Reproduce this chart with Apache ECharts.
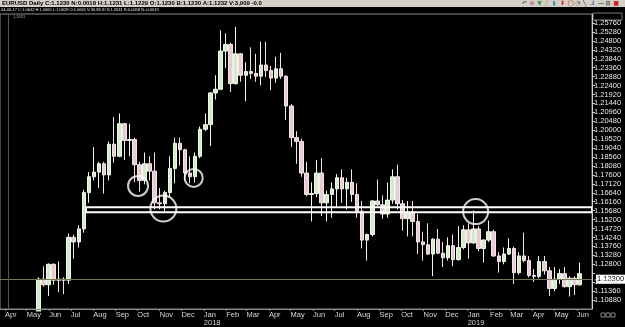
<!DOCTYPE html>
<html><head><meta charset="utf-8">
<script src="https://cdn.jsdelivr.net/npm/echarts@6/dist/echarts.min.js"></script>
<style>html,body{margin:0;padding:0;background:#000;overflow:hidden}#c{width:625px;height:327px}</style>
</head><body><div id="c"></div>
<script>
// ---- data (weekly OHLC; weeks start Mon 2017-04-03, plotted mid-week) ----
const firstWeekMid = '2017-04-05';
const opens = [
1.0665,1.0642,1.0615,1.0860,1.0895,1.0995,1.0930,1.1200,1.1170,1.1280,
1.1195,1.1200,1.1195,1.1425,1.1400,1.1470,1.1665,1.1750,1.1775,1.1820,
1.1760,1.1925,1.1860,1.2035,1.1945,1.1950,1.1815,1.1730,1.1820,1.1780,
1.1610,1.1605,1.1665,1.1795,1.1930,1.1895,1.1770,1.1750,1.1860,
1.2005,1.2030,1.2200,1.2220,1.2425,1.2460,1.2250,1.2410,1.2295,1.2315,
1.2305,1.2290,1.2350,1.2320,1.2280,1.2330,1.2290,1.2130,1.1960,1.1940,
1.1770,1.1655,1.1660,1.1770,1.1610,1.1655,1.1685,1.1745,1.1685,1.1720,
1.1655,1.1565,1.1410,1.1440,1.1620,1.1600,1.1550,1.1625,1.1750,1.1605,
1.1525,1.1560,1.1510,1.1400,1.1385,1.1335,1.1415,1.1340,1.1315,1.1380,
1.1305,1.1370,
1.1465,1.1395,1.1470,1.1365,1.1410,1.1455,1.1325,1.1295,1.1335,1.1365,
1.1235,1.1325,1.1300,1.1220,1.1215,1.1295,1.1245,1.1150,1.1200,1.1230,
1.1160,1.1205,1.1170];
const closes = [
1.0642,1.0615,1.0725,1.0895,1.0995,1.0930,1.1200,1.1170,1.1280,1.1195,
1.1200,1.1195,1.1425,1.1400,1.1470,1.1665,1.1750,1.1775,1.1820,1.1760,
1.1925,1.1860,1.2035,1.1945,1.1950,1.1815,1.1730,1.1820,1.1780,1.1610,
1.1605,1.1665,1.1795,1.1930,1.1895,1.1770,1.1750,1.1860,1.2005,
1.2030,1.2200,1.2220,1.2425,1.2460,1.2250,1.2410,1.2295,1.2315,1.2305,
1.2290,1.2350,1.2320,1.2280,1.2330,1.2290,1.2130,1.1960,1.1940,1.1770,
1.1655,1.1660,1.1770,1.1610,1.1655,1.1685,1.1745,1.1685,1.1720,1.1655,
1.1565,1.1410,1.1440,1.1620,1.1600,1.1550,1.1625,1.1750,1.1605,1.1525,
1.1560,1.1510,1.1400,1.1385,1.1335,1.1415,1.1340,1.1315,1.1380,1.1305,
1.1370,1.1465,
1.1395,1.1470,1.1365,1.1410,1.1455,1.1325,1.1295,1.1335,1.1365,1.1235,
1.1325,1.1300,1.1220,1.1215,1.1295,1.1245,1.1150,1.1200,1.1230,1.1160,
1.1205,1.1170,1.1230];
const lows = [
1.0605,1.0570,1.0605,1.0820,1.0870,1.0840,1.0920,1.1160,1.1110,1.1170,
1.1130,1.1120,1.1175,1.1310,1.1370,1.1450,1.1610,1.1730,1.1690,1.1660,
1.1730,1.1825,1.1855,1.1840,1.1860,1.1720,1.1670,1.1710,1.1730,1.1575,
1.1575,1.1555,1.1640,1.1715,1.1810,1.1730,1.1715,1.1720,1.1850,
1.1995,1.1915,1.2165,1.2215,1.2335,1.2205,1.2245,1.2260,1.2155,1.2275,
1.2260,1.2240,1.2285,1.2215,1.2255,1.2275,1.2055,1.1910,1.1820,1.1750,
1.1645,1.1510,1.1640,1.1540,1.1510,1.1530,1.1590,1.1610,1.1575,1.1615,
1.1530,1.1365,1.1300,1.1430,1.1590,1.1525,1.1530,1.1605,1.1575,1.1460,
1.1430,1.1430,1.1335,1.1300,1.1330,1.1216,1.1335,1.1265,1.1300,1.1270,
1.1300,1.1360,
1.1310,1.1390,1.1350,1.1290,1.1400,1.1320,1.1235,1.1280,1.1330,1.1175,
1.1225,1.1290,1.1210,1.1185,1.1205,1.1225,1.1110,1.1135,1.1175,1.1155,
1.1107,1.1115,1.1165];
const highs = [
1.0700,1.0680,1.0780,1.0950,1.1000,1.1020,1.1210,1.1270,1.1285,1.1285,
1.1295,1.1210,1.1445,1.1440,1.1490,1.1680,1.1775,1.1910,1.1830,1.1830,
1.1940,1.2070,1.2090,1.2040,1.2035,1.1960,1.1830,1.1880,1.1860,1.1880,
1.1690,1.1675,1.1860,1.1960,1.1960,1.1900,1.1860,1.1880,1.2020,
1.2090,1.2205,1.2295,1.2537,1.2520,1.2470,1.2555,1.2415,1.2365,1.2445,
1.2410,1.2475,1.2475,1.2345,1.2395,1.2415,1.2295,1.2140,1.1995,1.1955,
1.1830,1.1720,1.1840,1.1850,1.1675,1.1720,1.1765,1.1790,1.1745,1.1790,
1.1715,1.1620,1.1445,1.1625,1.1735,1.1650,1.1720,1.1790,1.1815,1.1625,
1.1620,1.1620,1.1550,1.1455,1.1500,1.1420,1.1470,1.1400,1.1425,1.1440,
1.1485,1.1490,
1.1500,1.1570,1.1485,1.1415,1.1515,1.1465,1.1345,1.1370,1.1420,1.1375,
1.1345,1.1450,1.1325,1.1255,1.1325,1.1325,1.1265,1.1265,1.1255,1.1265,
1.1215,1.1215,1.1290];

const lastPrice = 1.1230;
const crosshairDate = '2017-04-06';
const bandStartDate = '2017-07-22';
const bandLow = 1.1560, bandHigh = 1.1587;
const circleDates = ['2017-10-02','2017-11-06','2017-12-18','2019-01-12'];
const circlePrices = [1.1701, 1.1579, 1.1744, 1.1563];
const monthNames = ['Jan','Feb','Mar','Apr','May','Jun','Jul','Aug','Sep','Oct','Nov','Dec'];
const headerLine1 = 'EURUSD Daily C:1.1230 N:0.0018 H:1.1231 L:1.1229 O:1.1230 B:1.1230 A:1.1232 V:3,909 -0.0';
const headerLine2 = '04-06-17 C:1.0642 H:1.0665 L:1.0628 O:1.0661 V:36.8K III S:1.2631 R:0.0058 N:-0.0019';
const crosshairPriceText = '1.2631';

// ---- build ----
const DAY = 864e5;
const t0 = Date.parse(firstWeekMid + 'T00:00:00Z');
const candleData = opens.map((o, i) => [t0 + i * 7 * DAY, o, closes[i], lows[i], highs[i]]);
const circleSizes = [20, 26, 18, 25];
const circleData = circleDates.map((d, i) => ({
  value: [Date.parse(d + 'T00:00:00Z'), circlePrices[i]], symbolSize: circleSizes[i]
}));
const FF = '"Liberation Sans", Arial, sans-serif';

const icons = [['↶','#666'],['⊗','#c06a8a'],['▼','#3c9a3c'],['╱','#c08a3a'],['▮','#3aa0a0'],['⬍','#d03030'],
  ['◯','#c03a3a'],['◔','#666'],['╲','#444'],['⅃','#4a68c0'],['—','#555'],['⊟','#555'],['■','#d02020']];
const graphics = [
  {type:'rect', shape:{x:0,y:0,width:625,height:7}, style:{fill:'#d4d0c8'}, silent:true},
  {type:'text', x:2, y:0.5, style:{text:headerLine1, fill:'#000', font:'bold 6px ' + FF}, silent:true},
  {type:'text', x:1, y:8, style:{text:headerLine2, fill:'#e0e0e0', font:'4px ' + FF}, silent:true},
  {type:'text', x:13, y:15, style:{text:crosshairPriceText, fill:'#b0b0b0', font:'4px ' + FF}, silent:true},
  {type:'rect', shape:{x:593,y:13,width:29,height:7}, style:{fill:'none', stroke:'#777', lineWidth:1}, silent:true},
  // mask below the plot so candles outside the price range are clipped at the x axis
  {type:'rect', z:5, shape:{x:0,y:311.5,width:592,height:16}, style:{fill:'#000'}, silent:true},
  {type:'rect', z:6, shape:{x:601,y:313,width:4,height:4}, style:{fill:'none', stroke:'#888', lineWidth:1}, silent:true},
  {type:'rect', z:6, shape:{x:606,y:313,width:4,height:4}, style:{fill:'none', stroke:'#888', lineWidth:1}, silent:true},
  {type:'rect', z:6, shape:{x:611,y:313,width:4,height:4}, style:{fill:'none', stroke:'#888', lineWidth:1}, silent:true}
];
icons.forEach((ic, i) => graphics.push({type:'text', x:522 + i * 7.6, y:0, silent:true,
  style:{text:ic[0], fill:ic[1], font:'bold 6px "DejaVu Sans", sans-serif'}}));

const chart = echarts.init(document.getElementById('c'), null, {renderer:'canvas'});
chart.setOption({
  backgroundColor:'#000',
  animation:false,
  useUTC:true,
  grid:{left:0, right:33, top:14, bottom:16, show:true, borderColor:'#8a8a8a', borderWidth:1},
  xAxis:{
    type:'time', z:10,
    min:Date.UTC(2017,2,25), max:Date.UTC(2019,5,22),
    minInterval:28 * DAY, maxInterval:31 * DAY, splitNumber:27,
    splitLine:{show:false},
    axisLine:{lineStyle:{color:'#8a8a8a'}},
    axisTick:{show:true, length:2, lineStyle:{color:'#8a8a8a'}},
    axisLabel:{color:'#d8d8d8', fontSize:7.5, fontFamily:FF, margin:2, align:'left', lineHeight:8,
      hideOverlap:false,
      formatter:function(v){ const d = new Date(v); const m = d.getUTCMonth();
        return m === 0 ? 'Jan\n' + d.getUTCFullYear() : monthNames[m]; }}
  },
  yAxis:{
    type:'value', position:'right', min:1.1040, max:1.2624, interval:0.0048, z:10,
    splitLine:{show:false},
    axisLine:{show:true, lineStyle:{color:'#d0d0d0'}},
    axisTick:{show:true, length:3, lineStyle:{color:'#d0d0d0'}},
    axisLabel:{color:'#e8e8e8', fontSize:7.5, fontFamily:FF, margin:2, showMinLabel:false, showMaxLabel:false,
      formatter:function(v){ return Math.abs(v - 1.1232) < 1e-6 ? '' : v.toFixed(5); }}
  },
  series:[
    {
      type:'candlestick', data:candleData, encode:{x:0, y:[1,2,3,4]},
      barWidth:4, clip:true, z:2,
      itemStyle:{color:'#d3ebc9', color0:'#e6cbd0', borderColor:'#f0f8ec', borderColor0:'#f4e6e8', borderWidth:1},
      markLine:{
        silent:true, symbol:['none','none'], animation:false,
        data:[
          {yAxis:lastPrice, lineStyle:{color:'#77775a', width:1, type:'solid'},
           label:{show:true, position:'end', distance:4, formatter:lastPrice.toFixed(5),
             color:'#000', backgroundColor:'#fff', padding:[1,2,0,1], fontSize:7.5, fontFamily:FF}},
          {xAxis:Date.parse(crosshairDate + 'T00:00:00Z'), lineStyle:{color:'#555', width:1, type:'solid'},
           label:{show:false}}
        ]
      }
    },
    {
      type:'scatter', data:circleData, z:6, symbol:'circle',
      itemStyle:{color:'rgba(0,0,0,0)', borderColor:'#ffffff', borderWidth:2},
      markArea:{
        silent:true, z:6,
        itemStyle:{color:'rgba(0,0,0,0)', borderColor:'#ffffff', borderWidth:2},
        data:[[{xAxis:Date.parse(bandStartDate + 'T00:00:00Z'), yAxis:bandHigh},
               {xAxis:Date.UTC(2019,5,22), yAxis:bandLow}]]
      }
    }
  ],
  graphic:graphics
});
</script></body></html>
